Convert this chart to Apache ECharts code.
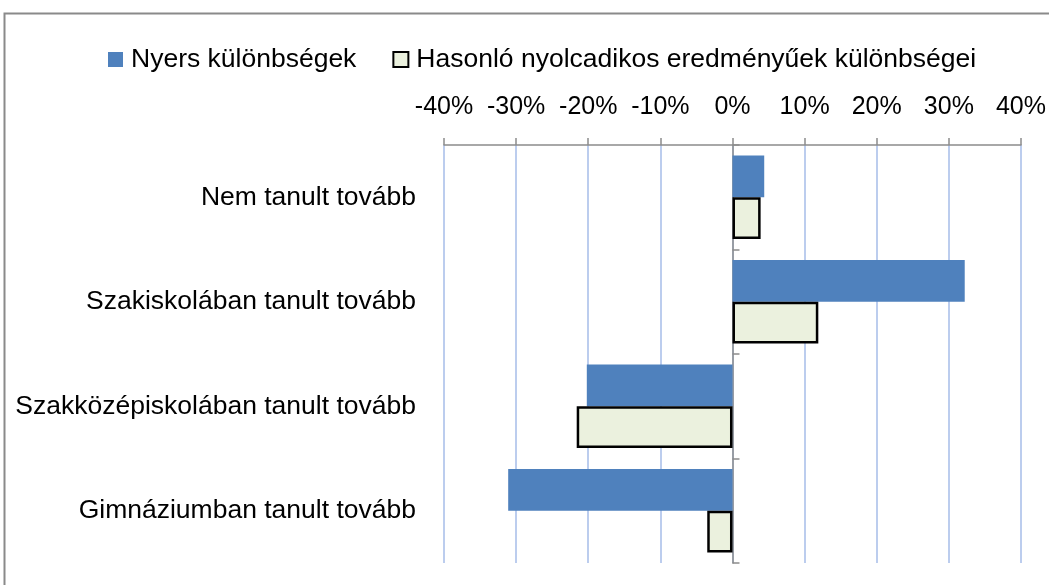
<!DOCTYPE html>
<html>
<head>
<meta charset="utf-8">
<script src="https://cdn.jsdelivr.net/npm/echarts@6/dist/echarts.min.js"></script>
<style>
html,body{margin:0;padding:0;background:#fff;}
#c{width:1049px;height:585px;}
</style>
</head>
<body>
<div id="c"></div>
<script>
const categories = ['Nem tanult tovább', 'Szakiskolában tanult tovább', 'Szakközépiskolában tanult tovább', 'Gimnáziumban tanult tovább'];
const seriesNames = ['Nyers különbségek', 'Hasonló nyolcadikos eredményűek különbségei'];
const nyers = [4.4, 32.2, -20.2, -31.1];
const hasonlo = [3.9, 11.9, -21.6, -3.5];
const xTicks = { min: -40, max: 40, interval: 10 };

const FONT = 'Liberation Sans';
const chart = echarts.init(document.getElementById('c'), null, { renderer: 'canvas' });
chart.setOption({
  animation: false,
  backgroundColor: '#fff',
  textStyle: { fontFamily: FONT, color: '#000' },
  graphic: [{
    type: 'rect',
    shape: { x: 4.5, y: 13.5, width: 1200, height: 800 },
    style: { fill: 'none', stroke: '#8a8a8a', lineWidth: 2 },
    silent: true
  }],
  legend: {
    left: 103, top: 41,
    icon: 'rect',
    itemWidth: 15, itemHeight: 15,
    itemGap: 36,
    textStyle: { fontFamily: FONT, fontSize: 26.5, color: '#000', padding: [0, 0, 0, 3] },
    data: [
      { name: seriesNames[0], itemStyle: { color: '#4F81BD', borderWidth: 0 } },
      { name: seriesNames[1], itemStyle: { color: '#EBF1DE', borderColor: '#000', borderWidth: 2 } }
    ]
  },
  grid: { left: 444, right: 28, top: 145, bottom: 22, containLabel: false },
  xAxis: {
    type: 'value', position: 'top',
    min: xTicks.min, max: xTicks.max, interval: xTicks.interval,
    axisLine: { show: true, onZero: false, lineStyle: { color: '#8c8c8c', width: 1.5 } },
    axisTick: { show: true, length: 7, lineStyle: { color: '#8c8c8c', width: 1.5 } },
    axisLabel: { formatter: '{value}%', fontFamily: FONT, fontSize: 25, color: '#000', margin: 25 },
    splitLine: { show: true, lineStyle: { color: '#bccdee', width: 2 } }
  },
  yAxis: [{
    type: 'category', inverse: true, data: categories,
    axisLine: { show: false, onZero: false },
    axisTick: { show: false },
    axisLabel: { fontFamily: FONT, fontSize: 26.5, color: '#000', margin: 28 }
  }, {
    type: 'category', inverse: true, data: categories,
    axisLine: { show: true, onZero: true, onZeroAxisIndex: 0, lineStyle: { color: '#8c8c8c', width: 1.5 } },
    axisTick: { show: true, length: 7, lineStyle: { color: '#8c8c8c', width: 1.5 } },
    axisLabel: { show: false },
    splitLine: { show: false }
  }],
  series: [{
    name: seriesNames[0], type: 'bar', yAxisIndex: 0, data: nyers,
    barGap: '0%', barCategoryGap: '20%',
    itemStyle: { color: '#4F81BD' }
  }, {
    name: seriesNames[1], type: 'bar', yAxisIndex: 0, data: hasonlo,
    barGap: '0%', barCategoryGap: '20%',
    itemStyle: { color: '#EBF1DE', borderColor: '#000', borderWidth: 2.5 }
  }]
});
</script>
</body>
</html>
